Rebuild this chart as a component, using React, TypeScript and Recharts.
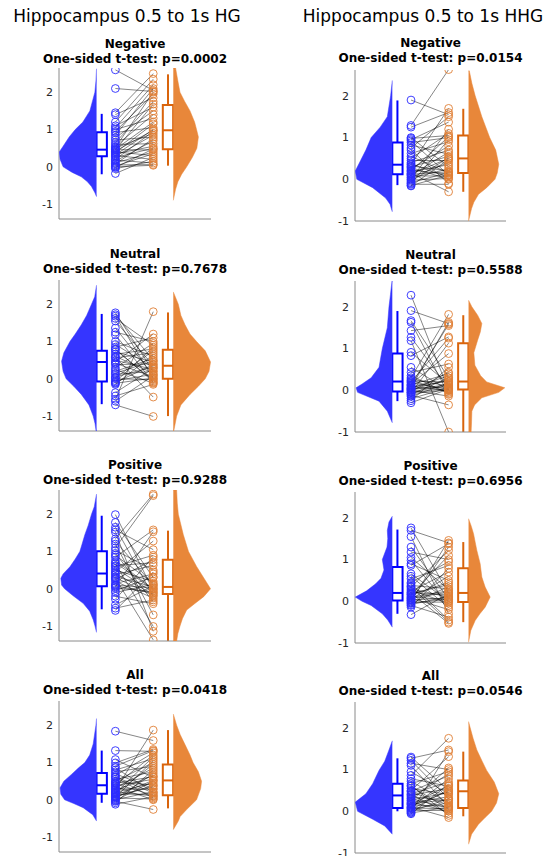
import { ComposedChart, Scatter, XAxis, YAxis, ReferenceLine, ReferenceArea } from "recharts";

const BANDS = ["HG", "HHG"];
const CONDITIONS = ["Negative", "Neutral", "Positive", "All"];
const P_VALUES_HG = ["0.0002", "0.7678", "0.9288", "0.0418"];
const P_VALUES_HHG = ["0.0154", "0.5588", "0.6956", "0.0546"];
const Y_TICKS = [-1, 0, 1, 2];

// per-subject pairs: [first group, second group]
const hgNegativePairs = [
  [2.6, 2.05], [2.1, 2.02], [1.45, 2.5], [1.4, 1.85], [1.2, 2.35], [1.1, 1.6], [1.05, 2.2], [1.0, 1.3],
  [0.95, 1.95], [0.92, 1.05], [0.85, 2.1], [0.78, 1.5], [0.72, 0.8], [0.65, 1.75], [0.6, 0.62], [0.55, 1.4],
  [0.52, 2.0], [0.5, 0.9], [0.47, 1.2], [0.46, 0.45], [0.45, 1.68], [0.42, 0.98], [0.4, 0.3], [0.38, 1.15],
  [0.35, 0.55], [0.32, 1.0], [0.3, 0.2], [0.28, 0.85], [0.25, 0.5], [0.2, 0.95], [0.18, 0.1], [0.15, 0.7],
  [0.1, 0.4], [0.08, 0.75], [0.05, 0.06], [0.02, 0.35], [0.0, 0.04], [-0.02, 0.48], [-0.05, 0.15], [-0.18, 0.25],
];
const hhgNegativePairs = [
  [1.9, 1.55], [1.29, 2.63], [1.25, 1.6], [1.0, 0.3], [0.98, 1.05], [0.95, 1.37], [0.92, 0.1], [0.88, 1.0],
  [0.82, 0.6], [0.75, 1.5], [0.7, -0.1], [0.62, 0.9], [0.55, 0.15], [0.5, 1.1], [0.45, 0.45], [0.4, 0.7],
  [0.37, 0.05], [0.35, 1.7], [0.32, 0.2], [0.3, 0.55], [0.28, 0.0], [0.25, 0.8], [0.22, 0.12], [0.2, 1.02],
  [0.18, 0.35], [0.15, -0.3], [0.13, 0.5], [0.12, 0.18], [0.1, 0.65], [0.08, 0.08], [0.05, 0.4], [0.03, 0.25],
  [0.0, 1.2], [-0.02, 0.02], [-0.05, 0.52], [-0.08, 0.16], [-0.1, 0.95], [-0.12, -0.12], [-0.15, 0.1], [-0.16, 0.48],
];
const hgNeutralPairs = [
  [1.77, 0.2], [1.72, 0.5], [1.68, 0.0], [1.62, 0.9], [1.55, 0.35], [1.36, 0.1], [1.25, 1.0], [1.18, -0.1],
  [1.0, 0.6], [0.92, 0.3], [0.85, 1.1], [0.78, -0.05], [0.72, 0.45], [0.66, 0.8], [0.6, 0.15], [0.58, -0.49],
  [0.56, 0.7], [0.5, 0.25], [0.45, 1.2], [0.42, 0.05], [0.38, 0.4], [0.3, 0.95], [0.25, -0.12], [0.2, 0.55],
  [0.12, 0.2], [0.05, 0.32], [0.03, 0.75], [0.0, -0.02], [-0.05, 0.12], [-0.08, 0.85], [-0.1, 0.38], [-0.12, 0.02],
  [-0.15, 0.65], [-0.37, 0.28], [-0.46, -0.15], [-0.55, 1.8], [-0.6, 0.08], [-0.7, -1.01], [0.15, 0.48], [0.8, -0.08],
];
const hhgNeutralPairs = [
  [2.28, 0.0], [1.91, 1.6], [1.67, 0.3], [1.63, -0.1], [1.43, 1.55], [1.27, 0.05], [1.19, -1.0], [0.91, 0.15],
  [0.83, 1.28], [0.55, 0.0], [0.43, 0.63], [0.3, 1.82], [0.27, 0.1], [0.24, -0.05], [0.22, 0.2], [0.2, 1.25],
  [0.18, 0.02], [0.15, 0.88], [0.13, 0.4], [0.1, -0.02], [0.08, 0.22], [0.06, 1.63], [0.04, 0.08], [0.02, 0.25],
  [0.0, -0.14], [-0.02, 0.43], [-0.04, 0.12], [-0.06, 1.13], [-0.08, 0.01], [-0.1, 0.3], [-0.12, -0.35], [-0.15, 0.18],
  [-0.2, 0.06], [-0.25, 0.55], [-0.3, 0.03], [0.35, -0.08], [0.12, 1.58], [0.05, 0.35], [0.01, 0.14], [-0.05, 0.04],
];
const hgPositivePairs = [
  [1.99, -0.05], [1.78, 0.3], [1.65, -0.2], [1.58, 1.05], [1.52, -1.14], [1.34, 2.54], [1.28, 0.1], [1.2, -0.7],
  [1.03, 0.5], [0.95, -0.35], [0.85, 1.58], [0.76, 0.0], [0.67, -1.01], [0.6, 0.9], [0.55, -0.1], [0.5, 0.2],
  [0.45, 1.28], [0.41, -0.15], [0.38, 0.63], [0.33, 0.05], [0.28, -1.37], [0.25, 0.78], [0.2, -0.25], [0.14, 0.4],
  [0.1, 0.02], [0.05, 1.53], [0.02, -0.08], [-0.05, 0.32], [-0.1, 0.12], [-0.2, -0.4], [-0.28, 0.85], [-0.43, 0.08],
  [-0.52, -0.3], [-0.58, 0.45], [0.7, -0.02], [0.9, 0.15], [1.1, 2.5], [0.3, -0.18], [0.62, 0.7], [0.08, -0.12],
];
const hhgPositivePairs = [
  [1.76, 0.2], [1.7, 1.4], [1.55, -0.3], [1.3, 0.05], [1.18, 1.0], [0.98, -0.1], [0.9, 0.5], [0.86, 1.38],
  [0.66, 0.0], [0.54, 0.86], [0.42, -0.45], [0.38, 0.3], [0.34, 1.22], [0.3, 0.1], [0.27, -0.05], [0.24, 0.7],
  [0.21, 0.15], [0.2, -0.53], [0.18, 0.4], [0.15, 1.1], [0.12, 0.02], [0.1, 0.25], [0.08, -0.2], [0.05, 0.6],
  [0.03, 0.08], [0.0, 1.46], [-0.02, -0.02], [-0.05, 0.35], [-0.08, 0.12], [-0.1, -0.38], [-0.14, 0.79], [-0.32, 0.18],
  [0.6, -0.15], [1.05, 0.28], [0.45, 0.95], [0.35, -0.5], [0.16, 0.45], [0.07, 0.22], [0.02, 1.3], [-0.04, 0.05],
];
const hgAllPairs = [
  [1.84, 1.59], [1.32, 1.3], [1.08, 0.6], [0.99, 1.35], [0.86, 0.2], [0.8, 1.1], [0.75, 0.9], [0.7, 0.3],
  [0.65, 1.26], [0.6, 0.05], [0.55, 0.75], [0.5, 1.0], [0.47, 0.4], [0.43, 0.12], [0.4, 1.2], [0.38, 0.55],
  [0.35, 0.0], [0.32, 0.85], [0.3, 0.28], [0.27, 1.87], [0.25, 0.65], [0.22, 0.1], [0.2, 0.45], [0.17, 0.95],
  [0.15, 0.15], [0.12, 0.52], [0.1, 0.35], [0.07, 1.05], [0.05, 0.02], [0.02, 0.7], [0.0, 0.22], [-0.02, 0.5],
  [-0.04, -0.26], [-0.08, 0.8], [-0.12, 0.08], [0.9, 1.32], [0.62, 0.18], [0.45, 0.62], [0.18, 1.15], [0.08, 0.38],
];
const hhgAllPairs = [
  [1.3, 0.5], [1.27, 1.47], [1.22, 0.3], [1.15, 1.0], [1.1, 0.1], [0.86, 1.75], [0.78, 0.6], [0.72, 0.2],
  [0.66, 0.95], [0.6, 0.05], [0.55, 0.4], [0.5, 1.31], [0.46, 0.15], [0.42, 0.7], [0.4, -0.05], [0.38, 0.55],
  [0.35, 0.25], [0.32, 0.9], [0.3, 0.08], [0.27, 0.45], [0.25, 1.04], [0.22, 0.0], [0.2, 0.35], [0.17, 0.62],
  [0.15, 0.12], [0.12, 0.48], [0.1, -0.15], [0.08, 0.78], [0.06, 0.2], [0.04, 0.52], [0.02, 0.02], [0.0, 0.3],
  [-0.02, 1.43], [-0.04, 0.1], [-0.06, 0.65], [0.95, 0.42], [0.62, -0.1], [0.48, 0.85], [0.18, 0.28], [0.08, 0.06],
];

// box summaries: [lower whisker, q1, median, q3, upper whisker]
const hgBoxesFirst = [
  [-0.2, 0.28, 0.46, 0.93, 1.42],
  [-0.68, -0.07, 0.45, 0.75, 1.74],
  [-0.55, 0.07, 0.41, 1.01, 1.96],
  [-0.08, 0.16, 0.39, 0.72, 1.32],
];
const hgBoxesSecond = [
  [0.03, 0.47, 0.98, 1.66, 2.48],
  [-1.0, 0.0, 0.35, 0.78, 1.78],
  [-1.4, -0.14, 0.05, 0.78, 1.56],
  [-0.23, 0.12, 0.52, 0.95, 1.87],
];
const hhgBoxesFirst = [
  [-0.14, 0.12, 0.35, 0.88, 1.89],
  [-0.26, -0.03, 0.21, 0.88, 1.9],
  [-0.3, 0.02, 0.2, 0.82, 1.72],
  [0.0, 0.08, 0.38, 0.66, 1.27],
];
const hhgBoxesSecond = [
  [-0.3, 0.15, 0.5, 1.05, 1.69],
  [-1.0, 0.02, 0.21, 1.13, 1.8],
  [-0.5, -0.02, 0.2, 0.79, 1.42],
  [-0.12, 0.08, 0.48, 0.74, 1.43],
];

// density profiles: [value, half-violin width]
const hgNegativeCloudA = [[2.63, 0], [2.3, 0.004], [2.0, 0.011], [1.5, 0.044], [1.2, 0.09], [1.0, 0.14], [0.8, 0.18], [0.55, 0.22], [0.4, 0.245], [0.2, 0.24], [0.0, 0.22], [-0.15, 0.16], [-0.27, 0.1], [-0.4, 0.06], [-0.53, 0.033], [-0.7, 0.01], [-0.8, 0]];
const hgNegativeCloudB = [[2.65, 0.015], [2.3, 0.03], [2.0, 0.044], [1.75, 0.075], [1.5, 0.11], [1.2, 0.14], [1.0, 0.153], [0.8, 0.165], [0.5, 0.155], [0.25, 0.125], [0.0, 0.088], [-0.2, 0.055], [-0.4, 0.03], [-0.6, 0.015], [-0.9, 0]];
const hhgNegativeCloudA = [[2.37, 0], [2.0, 0.011], [1.5, 0.033], [1.25, 0.08], [1.0, 0.14], [0.7, 0.175], [0.45, 0.21], [0.2, 0.245], [0.0, 0.235], [-0.2, 0.13], [-0.45, 0.044], [-0.6, 0.015], [-0.78, 0]];
const hhgNegativeCloudB = [[2.6, 0.005], [2.3, 0.022], [2.0, 0.044], [1.5, 0.088], [1.0, 0.14], [0.7, 0.18], [0.36, 0.2], [0.15, 0.19], [0.0, 0.175], [-0.2, 0.12], [-0.36, 0.066], [-0.55, 0.035], [-0.7, 0.02], [-1.0, 0]];
const hgNeutralCloudA = [[2.51, 0], [2.2, 0.012], [2.0, 0.033], [1.7, 0.065], [1.45, 0.1], [1.2, 0.14], [1.0, 0.175], [0.7, 0.215], [0.47, 0.23], [0.2, 0.22], [0.0, 0.2], [-0.2, 0.15], [-0.42, 0.1], [-0.7, 0.05], [-1.0, 0.022], [-1.2, 0.01], [-1.4, 0.003]];
const hgNeutralCloudB = [[2.33, 0], [2.0, 0.033], [1.7, 0.05], [1.45, 0.077], [1.2, 0.11], [1.0, 0.153], [0.75, 0.21], [0.45, 0.245], [0.2, 0.235], [0.0, 0.21], [-0.2, 0.165], [-0.42, 0.11], [-0.7, 0.05], [-1.0, 0.022], [-1.4, 0.003]];
const hhgNeutralCloudA = [[2.62, 0.002], [2.3, 0.012], [2.0, 0.022], [1.5, 0.033], [1.0, 0.066], [0.55, 0.088], [0.3, 0.14], [0.15, 0.2], [0.06, 0.24], [-0.05, 0.23], [-0.26, 0.088], [-0.5, 0.033], [-0.78, 0]];
const hhgNeutralCloudB = [[2.16, 0], [2.0, 0.022], [1.8, 0.06], [1.6, 0.088], [1.4, 0.078], [1.2, 0.06], [0.9, 0.035], [0.6, 0.042], [0.35, 0.08], [0.2, 0.12], [0.06, 0.24], [-0.05, 0.2], [-0.18, 0.088], [-0.35, 0.04], [-0.5, 0.022], [-0.75, 0.02], [-1.0, 0.017]];
const hgPositiveCloudA = [[2.54, 0], [2.2, 0.015], [2.0, 0.033], [1.7, 0.055], [1.45, 0.077], [1.2, 0.095], [1.0, 0.11], [0.8, 0.14], [0.59, 0.175], [0.4, 0.22], [0.28, 0.235], [0.1, 0.23], [0.0, 0.21], [-0.2, 0.15], [-0.39, 0.088], [-0.6, 0.045], [-0.83, 0.022], [-1.0, 0.01], [-1.17, 0]];
const hgPositiveCloudB = [[2.65, 0.022], [2.3, 0.026], [2.0, 0.033], [1.45, 0.066], [1.0, 0.1], [0.6, 0.153], [0.23, 0.21], [0.0, 0.245], [-0.21, 0.2], [-0.4, 0.14], [-0.57, 0.088], [-0.8, 0.06], [-1.0, 0.044], [-1.2, 0.03], [-1.4, 0.022]];
const hhgPositiveCloudA = [[2.04, 0], [1.9, 0.022], [1.7, 0.033], [1.5, 0.03], [1.3, 0.035], [1.0, 0.066], [0.75, 0.055], [0.55, 0.075], [0.42, 0.11], [0.25, 0.17], [0.1, 0.245], [0.0, 0.2], [-0.1, 0.14], [-0.3, 0.066], [-0.45, 0.03], [-0.62, 0]];
const hhgPositiveCloudB = [[1.98, 0], [1.8, 0.018], [1.62, 0.033], [1.4, 0.045], [1.22, 0.055], [0.9, 0.077], [0.58, 0.088], [0.34, 0.11], [0.1, 0.143], [-0.14, 0.11], [-0.3, 0.075], [-0.46, 0.044], [-0.7, 0.015], [-0.98, 0]];
const hgAllCloudA = [[2.18, 0], [2.0, 0.004], [1.5, 0.022], [1.2, 0.045], [1.0, 0.077], [0.85, 0.12], [0.68, 0.165], [0.5, 0.215], [0.32, 0.24], [0.15, 0.235], [0.0, 0.21], [-0.1, 0.15], [-0.21, 0.088], [-0.4, 0.025], [-0.57, 0]];
const hgAllCloudB = [[2.3, 0], [2.0, 0.022], [1.75, 0.045], [1.48, 0.077], [1.2, 0.11], [1.0, 0.13], [0.75, 0.165], [0.5, 0.186], [0.3, 0.18], [0.0, 0.153], [-0.26, 0.088], [-0.45, 0.045], [-0.57, 0.033], [-0.8, 0]];
const hhgAllCloudA = [[1.69, 0], [1.47, 0.022], [1.2, 0.05], [0.98, 0.088], [0.66, 0.13], [0.42, 0.175], [0.22, 0.245], [0.0, 0.23], [-0.19, 0.13], [-0.35, 0.05], [-0.55, 0]];
const hhgAllCloudB = [[2.15, 0], [2.0, 0.011], [1.75, 0.03], [1.47, 0.055], [1.2, 0.09], [0.98, 0.12], [0.7, 0.17], [0.42, 0.2], [0.2, 0.185], [0.0, 0.153], [-0.15, 0.11], [-0.31, 0.066], [-0.55, 0.02], [-0.79, 0]];

const PAIRS = [
  [hgNegativePairs, hgNeutralPairs, hgPositivePairs, hgAllPairs],
  [hhgNegativePairs, hhgNeutralPairs, hhgPositivePairs, hhgAllPairs],
];
const CLOUDS_A = [
  [hgNegativeCloudA, hgNeutralCloudA, hgPositiveCloudA, hgAllCloudA],
  [hhgNegativeCloudA, hhgNeutralCloudA, hhgPositiveCloudA, hhgAllCloudA],
];
const CLOUDS_B = [
  [hgNegativeCloudB, hgNeutralCloudB, hgPositiveCloudB, hgAllCloudB],
  [hhgNegativeCloudB, hhgNeutralCloudB, hhgPositiveCloudB, hhgAllCloudB],
];
const BOXES_A = [hgBoxesFirst, hhgBoxesFirst];
const BOXES_B = [hgBoxesSecond, hhgBoxesSecond];
const P_VALUES = [P_VALUES_HG, P_VALUES_HHG];

// layout
const COL = [
  { left: 0, width: 272, plotLeft: 59, plotWidth: 152, domain: [-1.4, 2.65], tops: [68, 280, 490, 701], titleY: [44, 254, 465, 675] },
  { left: 272, width: 273, plotLeft: 355, plotWidth: 151, domain: [-1, 2.62], tops: [70, 281, 492, 702], titleY: [43, 255, 466, 676] },
];
const PLOT_H = 151;
const Y_AXIS_W = 30;
const X_AXIS_H = 1;

// x positions inside each axes (0..1)
const X_CLOUD_A = 0.247;
const X_BOX_A = 0.281;
const X_DOTS_A = 0.371;
const X_DOTS_B = 0.62;
const X_BOX_B = 0.717;
const X_CLOUD_B = 0.752;
const BOX_HALF = 0.034;

const AXIS_GREY = "#8a8a8a";
const BLUE_CLOUD = "#3535ff";
const BLUE_LINE = "#0000ff";
const BLUE_DOT = "#2a2aff";
const ORANGE_CLOUD = "#e8873a";
const ORANGE_LINE = "#d9640c";
const ORANGE_DOT = "#e07f35";

const noShape = () => <g />;
const ring = (color: string) => (props: any) =>
  <circle cx={props.cx} cy={props.cy} r={3.9} fill="none" stroke={color} strokeWidth={0.9} />;

function cloudOutline(profile: number[][], base: number, dir: number) {
  const top = profile[0][0];
  const bottom = profile[profile.length - 1][0];
  return [
    { x: base, y: top },
    ...profile.map(([y, w]) => ({ x: base + dir * w, y })),
    { x: base, y: bottom },
  ];
}

function boxMarks(stats: number[], x: number, color: string) {
  const [lo, q1, med, q3, hi] = stats;
  return [
    <ReferenceLine key="hi" segment={[{ x, y: q3 }, { x, y: hi }]} stroke={color} strokeWidth={2} ifOverflow="hidden" />,
    <ReferenceLine key="lo" segment={[{ x, y: lo }, { x, y: q1 }]} stroke={color} strokeWidth={2} ifOverflow="hidden" />,
    <ReferenceArea key="box" x1={x - BOX_HALF} x2={x + BOX_HALF} y1={q1} y2={q3} fill="#fff" fillOpacity={1} stroke={color} strokeWidth={2} ifOverflow="hidden" />,
    <ReferenceLine key="med" segment={[{ x: x - BOX_HALF, y: med }, { x: x + BOX_HALF, y: med }]} stroke={color} strokeWidth={2} ifOverflow="hidden" />,
  ];
}

function Panel({ band, cond }: { band: number; cond: number }) {
  const col = COL[band];
  const pairs = PAIRS[band][cond];
  const top = col.tops[cond];
  const pad = 8;
  const marginLeft = col.plotLeft - col.left - Y_AXIS_W;
  const marginRight = col.width - marginLeft - Y_AXIS_W - col.plotWidth;
  return (
    <div style={{ position: "absolute", left: col.left, top: top - pad }}>
      <ComposedChart
        width={col.width}
        height={PLOT_H + 2 * pad}
        margin={{ top: pad, right: marginRight, bottom: pad - X_AXIS_H, left: marginLeft }}
      >
        <XAxis
          type="number"
          dataKey="x"
          domain={[0, 1]}
          allowDataOverflow
          height={X_AXIS_H}
          ticks={[]}
          tick={false}
          tickLine={false}
          axisLine={{ stroke: AXIS_GREY }}
        />
        <YAxis
          type="number"
          dataKey="y"
          domain={col.domain}
          allowDataOverflow
          ticks={Y_TICKS}
          width={Y_AXIS_W}
          tickLine={false}
          tickSize={3}
          tickMargin={3}
          axisLine={{ stroke: AXIS_GREY }}
          tick={{ fill: "#262626", fontSize: 11 }}
        />
        <Scatter
          data={cloudOutline(CLOUDS_A[band][cond], X_CLOUD_A, -1)}
          fill={BLUE_CLOUD}
          line={{ fill: BLUE_CLOUD, stroke: BLUE_CLOUD, strokeWidth: 0.5 }}
          shape={noShape}
          isAnimationActive={false}
        />
        <Scatter
          data={cloudOutline(CLOUDS_B[band][cond], X_CLOUD_B, 1)}
          fill={ORANGE_CLOUD}
          line={{ fill: ORANGE_CLOUD, stroke: ORANGE_CLOUD, strokeWidth: 0.5 }}
          shape={noShape}
          isAnimationActive={false}
        />
        <Scatter data={pairs.map(([a]) => ({ x: X_DOTS_A, y: a }))} shape={ring(BLUE_DOT)} isAnimationActive={false} />
        <Scatter data={pairs.map(([, b]) => ({ x: X_DOTS_B, y: b }))} shape={ring(ORANGE_DOT)} isAnimationActive={false} />
        {pairs.map(([a, b], i) => (
          <ReferenceLine
            key={i}
            segment={[{ x: X_DOTS_A, y: a }, { x: X_DOTS_B, y: b }]}
            stroke="#000"
            strokeOpacity={0.8}
            strokeWidth={0.6}
            ifOverflow="hidden"
          />
        ))}
        {boxMarks(BOXES_A[band][cond], X_BOX_A, BLUE_LINE)}
        {boxMarks(BOXES_B[band][cond], X_BOX_B, ORANGE_LINE)}
      </ComposedChart>
    </div>
  );
}

export default function App() {
  return (
    <div
      style={{
        position: "absolute",
        left: 0,
        top: 0,
        width: 545,
        height: 856,
        background: "#fff",
        fontFamily: '"DejaVu Sans", sans-serif',
        color: "#000",
        overflow: "hidden",
      }}
    >
      <div style={{ position: "absolute", left: 0, width: 254, top: 6, textAlign: "center", fontSize: 17, lineHeight: "20px" }}>
        Hippocampus 0.5 to 1s {BANDS[0]}
      </div>
      <div style={{ position: "absolute", left: 296, width: 254, top: 6, textAlign: "center", fontSize: 17, lineHeight: "20px" }}>
        Hippocampus 0.5 to 1s {BANDS[1]}
      </div>
      {COL.map((col, band) =>
        CONDITIONS.map((name, cond) => (
          <div
            key={`t-${band}-${cond}`}
            style={{
              position: "absolute",
              left: col.plotLeft - 60,
              width: col.plotWidth + 120,
              top: col.titleY[cond] - 7.5,
              textAlign: "center",
              fontSize: 12,
              fontWeight: "bold",
              lineHeight: "15px",
              whiteSpace: "nowrap",
            }}
          >
            <div>{name}</div>
            <div>One-sided t-test: p={P_VALUES[band][cond]}</div>
          </div>
        ))
      )}
      {COL.map((_, band) => CONDITIONS.map((_, cond) => <Panel key={`p-${band}-${cond}`} band={band} cond={cond} />))}
    </div>
  );
}
